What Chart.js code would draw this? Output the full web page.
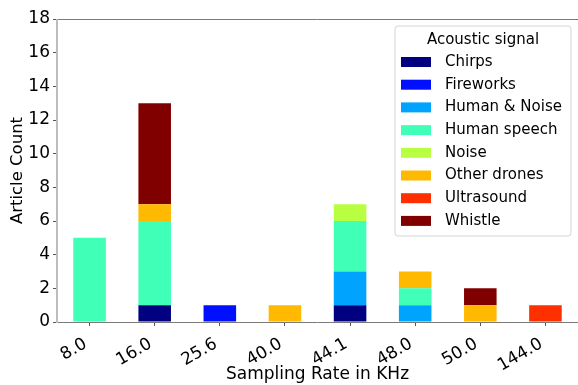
<!DOCTYPE html>
<html>
<head>
<meta charset="utf-8">
<script src="https://cdn.jsdelivr.net/npm/chart.js@4"></script>
<style>
  body { margin: 0; background: #fff; }
  #wrap { width: 578px; height: 385px; }
</style>
</head>
<body>
<div id="wrap"><canvas id="chart" width="578" height="385"></canvas></div>
<script>
const rates = ["8.0", "16.0", "25.6", "40.0", "44.1", "48.0", "50.0", "144.0"];
const yTicks = [0, 2, 4, 6, 8, 10, 12, 14, 16, 18];

const chirps      = [0, 1, 0, 0, 1, 0, 0, 0];
const fireworks   = [0, 0, 1, 0, 0, 0, 0, 0];
const humanNoise  = [0, 0, 0, 0, 2, 1, 0, 0];
const humanSpeech = [5, 5, 0, 0, 3, 1, 0, 0];
const noise       = [0, 0, 0, 0, 1, 0, 0, 0];
const otherDrones = [0, 1, 0, 1, 0, 1, 1, 0];
const ultrasound  = [0, 0, 0, 0, 0, 0, 0, 1];
const whistle     = [0, 6, 0, 0, 0, 0, 1, 0];

const FONT = "'DejaVu Sans', sans-serif";

function series(label, values, color) {
  return {
    label: label,
    data: values.map(v => (v === 0 ? null : v)),
    backgroundColor: color,
    borderWidth: 0,
    barPercentage: 0.5,
    categoryPercentage: 1.0,
  };
}

// legend drawn inside the plot, like matplotlib's upper right box
const boxLegend = {
  id: "boxLegend",
  afterDraw(chart) {
    const ctx = chart.ctx;
    const x = 395, y = 26, w = 176, h = 210;
    ctx.save();
    ctx.beginPath();
    ctx.roundRect(x, y, w, h, 3);
    ctx.fillStyle = "rgba(255,255,255,0.8)";
    ctx.fill();
    ctx.strokeStyle = "#d5d5d5";
    ctx.lineWidth = 1;
    ctx.stroke();

    ctx.fillStyle = "#000";
    ctx.font = "15px " + FONT;
    ctx.textBaseline = "middle";
    ctx.textAlign = "center";
    ctx.fillText("Acoustic signal", x + w / 2, 40);

    ctx.textAlign = "left";
    chart.data.datasets.forEach((ds, i) => {
      const cy = 62 + i * 22.7;
      ctx.fillStyle = ds.backgroundColor;
      ctx.fillRect(401, cy - 5, 30, 10);
      ctx.fillStyle = "#000";
      ctx.fillText(ds.label, 445, cy);
    });
    ctx.restore();
  }
};

// spines: top and bottom dark gray, left light gray
const spines = {
  id: "spines",
  afterDatasetsDraw(chart) {
    const a = chart.chartArea;
    const ctx = chart.ctx;
    ctx.save();
    ctx.strokeStyle = "#7a7a7a";
    ctx.lineWidth = 1;
    ctx.beginPath();
    ctx.moveTo(a.left, a.top + 0.5);
    ctx.lineTo(a.right, a.top + 0.5);
    ctx.moveTo(a.left, a.bottom + 0.5);
    ctx.lineTo(a.right, a.bottom + 0.5);
    ctx.stroke();
    ctx.strokeStyle = "#bdbdbd";
    ctx.lineWidth = 2;
    ctx.beginPath();
    ctx.moveTo(a.left, a.top);
    ctx.lineTo(a.left, a.bottom + 1);
    ctx.stroke();
    ctx.restore();
  }
};

new Chart(document.getElementById("chart"), {
  type: "bar",
  data: {
    labels: rates,
    datasets: [
      series("Chirps", chirps, "#000080"),
      series("Fireworks", fireworks, "#0010ff"),
      series("Human & Noise", humanNoise, "#00a4ff"),
      series("Human speech", humanSpeech, "#40ffb7"),
      series("Noise", noise, "#b7ff40"),
      series("Other drones", otherDrones, "#ffb900"),
      series("Ultrasound", ultrasound, "#ff3000"),
      series("Whistle", whistle, "#800000"),
    ],
  },
  options: {
    responsive: false,
    animation: false,
    layout: { padding: { top: 19, right: 0, left: 0, bottom: 0 } },
    plugins: {
      legend: { display: false },
      tooltip: { enabled: false },
    },
    scales: {
      x: {
        stacked: true,
        offset: true,
        border: { display: false },
        grid: { display: true, drawOnChartArea: false, drawTicks: true, tickLength: 4, color: "#555", offset: false },
        ticks: { color: "#000", font: { family: FONT, size: 17 }, minRotation: 30, maxRotation: 30, padding: 8, labelOffset: -4 },
        title: { display: true, text: "Sampling Rate in KHz", color: "#000", font: { family: FONT, size: 17 }, padding: { top: 0, bottom: 0 } },
        afterFit(scale) { scale.height = 63; },
      },
      y: {
        stacked: true,
        min: 0,
        max: 18,
        border: { display: false },
        grid: { display: true, drawOnChartArea: false, drawTicks: true, tickLength: 4, color: "#555" },
        afterBuildTicks(scale) { scale.ticks = yTicks.map(v => ({ value: v })); },
        ticks: { color: "#000", font: { family: FONT, size: 17 }, padding: 3 },
        title: { display: true, text: "Article Count", color: "#000", font: { family: FONT, size: 16.5 }, padding: { top: 8, bottom: 2 } },
        afterFit(scale) { scale.width = 57; },
      },
    },
  },
  plugins: [spines, boxLegend],
});
</script>
</body>
</html>
